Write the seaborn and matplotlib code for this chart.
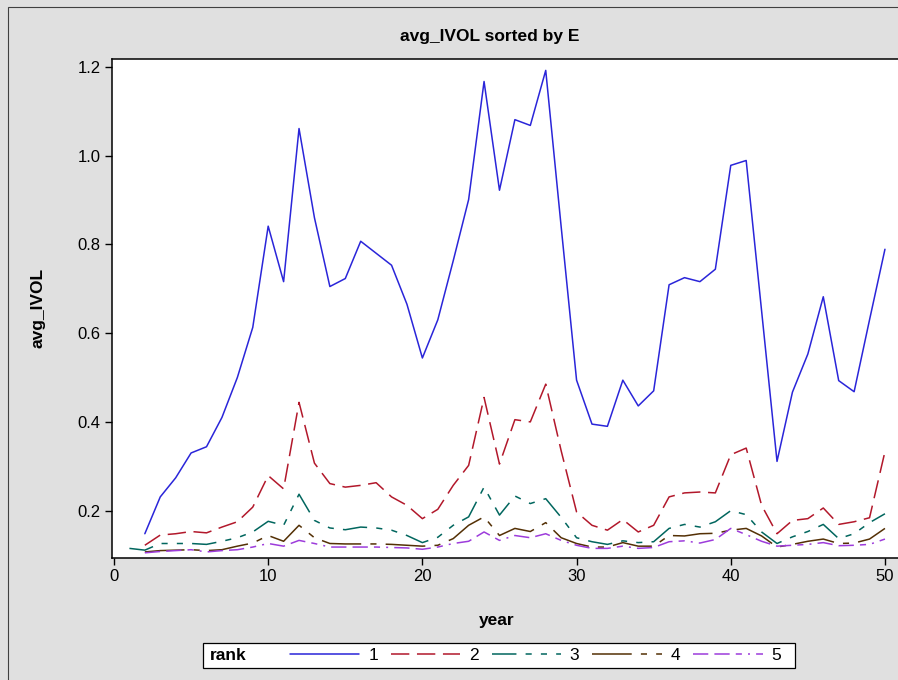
import matplotlib
matplotlib.use("Agg")
import matplotlib.pyplot as plt
import numpy as np
import pandas as pd
import seaborn as sns
from matplotlib.lines import Line2D
from matplotlib.patches import Rectangle

# years per rank (rank 3 has an extra point at year 1)
years_main = list(range(2, 51))
years_r3 = list(range(1, 51))

rank1 = [0.148, 0.231, 0.274, 0.330, 0.344, 0.410, 0.500, 0.613, 0.841, 0.716,
         1.061, 0.860, 0.705, 0.723, 0.807, 0.780, 0.753, 0.665, 0.544, 0.630,
         0.763, 0.901, 1.167, 0.922, 1.081, 1.068, 1.192, 0.840, 0.494, 0.395,
         0.390, 0.494, 0.436, 0.470, 0.709, 0.725, 0.716, 0.744, 0.978, 0.989,
         0.650, 0.311, 0.467, 0.553, 0.682, 0.493, 0.468, 0.630, 0.789]
rank2 = [0.122, 0.145, 0.148, 0.153, 0.150, 0.163, 0.175, 0.208, 0.279, 0.249,
         0.444, 0.307, 0.261, 0.253, 0.257, 0.263, 0.231, 0.212, 0.182, 0.203,
         0.257, 0.302, 0.455, 0.305, 0.405, 0.400, 0.485, 0.335, 0.197, 0.167,
         0.156, 0.180, 0.152, 0.167, 0.231, 0.240, 0.242, 0.240, 0.326, 0.341,
         0.212, 0.148, 0.178, 0.182, 0.206, 0.169, 0.175, 0.184, 0.333]
rank3 = [0.115, 0.111, 0.126, 0.126, 0.126, 0.124, 0.131, 0.139, 0.152, 0.176,
         0.167, 0.237, 0.178, 0.161, 0.157, 0.163, 0.161, 0.156, 0.144, 0.128,
         0.140, 0.167, 0.186, 0.253, 0.190, 0.233, 0.216, 0.227, 0.185, 0.139,
         0.130, 0.124, 0.132, 0.128, 0.130, 0.160, 0.169, 0.163, 0.175, 0.200,
         0.191, 0.152, 0.126, 0.141, 0.153, 0.169, 0.137, 0.148, 0.173, 0.193]
rank4 = [0.107, 0.110, 0.111, 0.112, 0.110, 0.112, 0.120, 0.127, 0.144, 0.131,
         0.167, 0.139, 0.126, 0.125, 0.125, 0.125, 0.124, 0.122, 0.120, 0.122,
         0.137, 0.167, 0.186, 0.144, 0.160, 0.153, 0.173, 0.139, 0.126, 0.118,
         0.118, 0.128, 0.120, 0.120, 0.144, 0.143, 0.148, 0.149, 0.156, 0.160,
         0.143, 0.118, 0.124, 0.131, 0.136, 0.126, 0.127, 0.136, 0.160]
rank5 = [0.105, 0.108, 0.110, 0.112, 0.107, 0.110, 0.112, 0.118, 0.126, 0.120,
         0.133, 0.126, 0.118, 0.118, 0.118, 0.118, 0.117, 0.116, 0.113, 0.118,
         0.126, 0.131, 0.152, 0.133, 0.144, 0.139, 0.148, 0.133, 0.122, 0.115,
         0.115, 0.120, 0.115, 0.117, 0.130, 0.132, 0.127, 0.135, 0.160, 0.146,
         0.131, 0.120, 0.122, 0.124, 0.128, 0.121, 0.122, 0.124, 0.136]

ranks = ["1", "2", "3", "4", "5"]
series = {
    "1": (years_main, rank1),
    "2": (years_main, rank2),
    "3": (years_r3, rank3),
    "4": (years_main, rank4),
    "5": (years_main, rank5),
}
df = pd.concat(
    [pd.DataFrame({"year": yrs, "avg_IVOL": vals, "rank": r}) for r, (yrs, vals) in series.items()],
    ignore_index=True,
)

colors = {"1": "#2A25D9", "2": "#B2182B", "3": "#01665E", "4": "#543005", "5": "#9D3CDB"}
dashes = {
    "1": "",
    "2": (12, 5),
    "3": (16, 6, 4, 6, 4, 6),
    "4": (26, 6, 4, 6),
    "5": (10, 4, 10, 4, 4, 4, 1.3, 4),
}
LW = 1.1
BG = "#E0E0E0"

sns.set_style("ticks")
plt.rcParams["font.family"] = ["Liberation Sans", "DejaVu Sans"]
plt.rcParams["text.color"] = "black"
plt.rcParams["xtick.color"] = "black"
plt.rcParams["ytick.color"] = "black"

W, H = 898, 680
fig = plt.figure(figsize=(W / 100, H / 100), dpi=100, facecolor=BG)
ax = fig.add_axes([111.7 / W, 1 - 557.7 / H, (905 - 111.7) / W, (557.7 - 59.3) / H])
ax.set_facecolor("white")

sns.lineplot(
    data=df, x="year", y="avg_IVOL", hue="rank", style="rank",
    hue_order=ranks, style_order=ranks, palette=colors, dashes=dashes,
    linewidth=LW, legend=False, ax=ax, estimator=None, sort=True,
)

ax.set_xlim(-0.149, 51.3)
ax.set_ylim(0.094, 1.217)
ax.set_xticks([0, 10, 20, 30, 40, 50])
ax.set_yticks([0.2, 0.4, 0.6, 0.8, 1.0, 1.2])
ax.set_yticklabels(["0.2", "0.4", "0.6", "0.8", "1.0", "1.2"])
ax.tick_params(direction="out", length=5, width=1.0, colors="black", labelcolor="black",
               labelsize=12, pad=3)
for sp in ax.spines.values():
    sp.set_color("black")
    sp.set_linewidth(1.1)
ax.spines["right"].set_visible(False)
ax.set_xlabel("")
ax.set_ylabel("")

fig.text(490 / W, 1 - 37 / H, "avg_IVOL sorted by E", ha="center", va="center",
         fontsize=12.5, fontweight="bold", color="black")
fig.text(497 / W, 1 - 620 / H, "year", ha="center", va="center", fontsize=12.5,
         fontweight="bold", color="black")
fig.text(38 / W, 1 - 308 / H, "avg_IVOL", ha="center", va="center", rotation=90,
         fontsize=12.5, fontweight="bold", color="black")

# outer frame (cropped on the right and bottom)
fig.add_artist(Rectangle((8.3 / W, -0.05), 1.2, 1.05 - 6.7 / H, transform=fig.transFigure,
                         fill=False, edgecolor="#404040", linewidth=0.8))

# legend
fig.add_artist(Rectangle((203 / W, 1 - 668 / H), (795 - 203) / W, 25 / H, transform=fig.transFigure,
                         facecolor="white", edgecolor="black", linewidth=0.9, zorder=2))
fig.text(210 / W, 1 - 655.5 / H, "rank", ha="left", va="center", fontsize=12.5,
         fontweight="bold", color="black", zorder=3)
handles = []
for r in ranks:
    if dashes[r] == "":
        h = Line2D([], [], color=colors[r], linewidth=LW, linestyle="-")
    else:
        h = Line2D([], [], color=colors[r], linewidth=LW, dashes=dashes[r])
    handles.append(h)
leg = fig.legend(handles, ranks, ncol=5, frameon=False, loc="center left",
                 bbox_to_anchor=(290 / W, 1 - 655.5 / H), borderpad=0, borderaxespad=0,
                 handlelength=4.0, handletextpad=0.5, columnspacing=0.75, fontsize=12.5)
leg.set_zorder(4)
for t in leg.get_texts():
    t.set_color("black")

fig.savefig("out.png", dpi=100, facecolor=BG)
